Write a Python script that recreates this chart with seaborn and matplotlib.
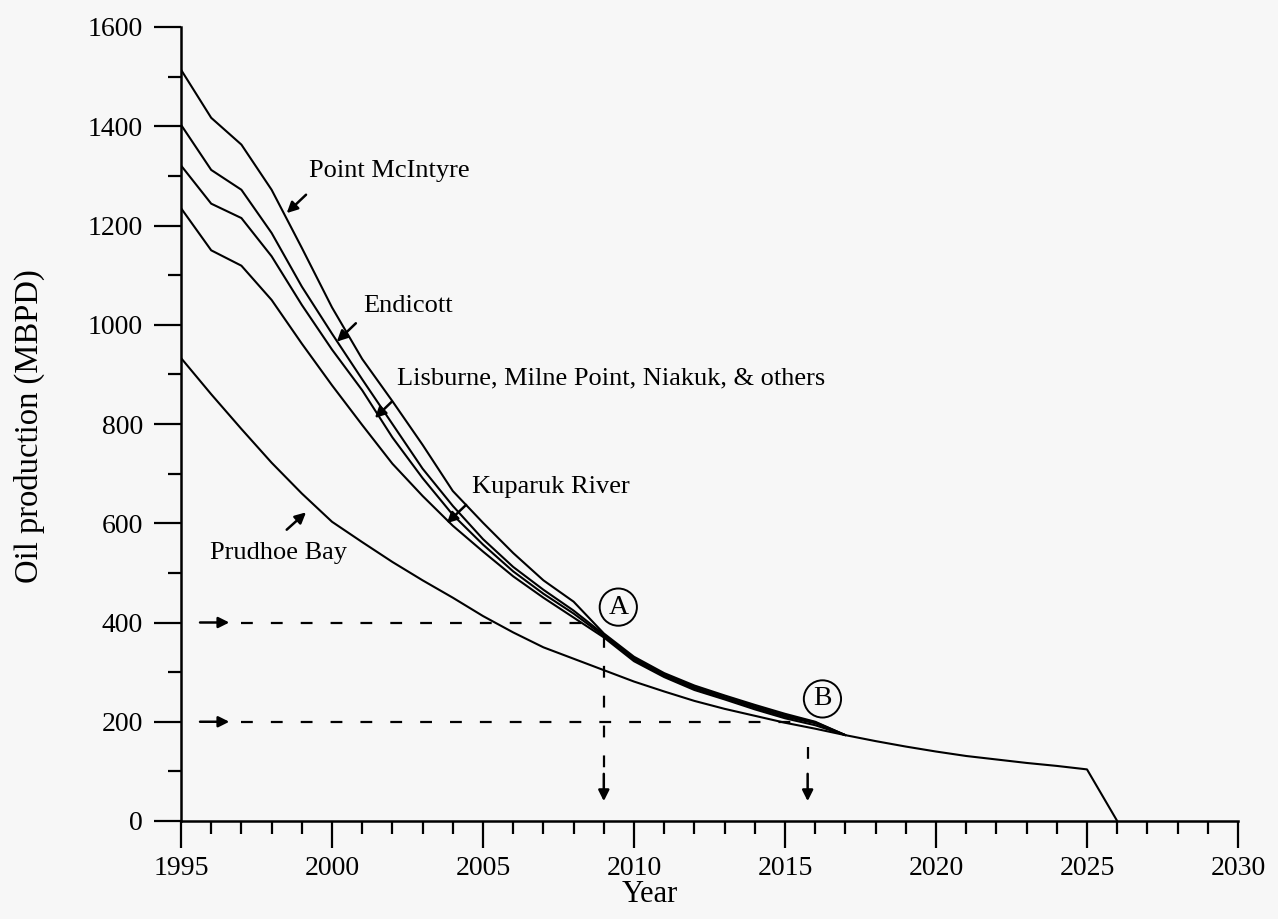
import numpy as np
import pandas as pd
import matplotlib
matplotlib.use("Agg")
import matplotlib.pyplot as plt
from matplotlib.ticker import MultipleLocator
import seaborn as sns

# Alaska North Slope oil production forecast, thousand barrels per day (MBPD)
years_prudhoe = list(range(1995, 2027))
prudhoe = [933, 860, 790, 722, 660, 603, 562, 522, 485, 450, 413, 380, 350, 327,
           304, 281, 261, 242, 226, 212, 198, 186, 173, 161, 150, 140, 131, 124,
           117, 111, 104, 0]

years_fields = list(range(1995, 2018))
kuparuk = [302, 290, 329, 328, 302, 275, 236, 198, 170, 145, 130, 113, 100, 83,
           66, 41, 29, 22, 19, 13, 9, 7, 0]
lisburne_group = [86, 94, 96, 88, 78, 72, 70, 53, 36, 22, 14, 10, 8, 8,
                  3, 3, 2, 3, 3, 3, 3, 4, 0]
endicott = [82, 68, 57, 47, 37, 32, 22, 27, 19, 18, 11, 9, 8, 6,
            3, 3, 3, 3, 2, 3, 3, 2, 0]
point_mcintyre = [111, 105, 91, 87, 78, 53, 41, 46, 48, 30, 33, 28, 19, 18,
                  2, 3, 3, 3, 3, 3, 3, 1, 0]

x_ticks = [1995, 2000, 2005, 2010, 2015, 2020, 2025, 2030]
y_ticks = [0, 200, 400, 600, 800, 1000, 1200, 1400, 1600]

# Threshold rates and the years they are reached
rate_a, year_a = 400, 2009.0
rate_b, year_b = 200, 2015.75

bg = "#f7f7f7"
sns.set_theme(style="white")
plt.rcParams["font.family"] = ["Liberation Serif", "DejaVu Serif"]
plt.rcParams["lines.scale_dashes"] = False
plt.rcParams["text.color"] = "black"

fig, ax = plt.subplots(figsize=(12.78, 9.19), dpi=100)
fig.patch.set_facecolor(bg)
ax.set_facecolor(bg)
fig.subplots_adjust(left=181 / 1278, right=1238 / 1278,
                    bottom=1 - 821 / 919, top=1 - 27 / 919)

# Stacked totals: each line adds one more field on top of Prudhoe Bay
n = len(years_fields)
frames = [pd.DataFrame({"Year": years_prudhoe, "Rate": prudhoe,
                        "Curve": "Prudhoe Bay"})]
cum = np.array(prudhoe[:n], dtype=float)
for name, vals in [("Kuparuk River", kuparuk),
                   ("Lisburne group", lisburne_group),
                   ("Endicott", endicott),
                   ("Point McIntyre", point_mcintyre)]:
    cum = cum + np.array(vals)
    frames.append(pd.DataFrame({"Year": years_fields, "Rate": cum.copy(),
                                "Curve": name}))
df = pd.concat(frames, ignore_index=True)

sns.lineplot(data=df, x="Year", y="Rate", units="Curve", estimator=None,
             color="black", linewidth=1.5, sort=False, ax=ax, legend=False)

# Dashed guide lines for the two threshold rates
dash = dict(color="black", linewidth=1.6, dashes=(8.5, 13))
ax.plot([1997.0, 2008.7], [rate_a, rate_a], **dash)
ax.plot([1997.0, 2015.2], [rate_b, rate_b], **dash)
ax.plot([year_a, year_a], [372, 100], **dash)
ax.plot([year_b, year_b], [150, 100], **dash)

arrow = dict(arrowstyle="-|>", color="black", lw=1.8, mutation_scale=16,
             shrinkA=0, shrinkB=0)
for r in (rate_a, rate_b):
    ax.annotate("", xy=(1996.6, r), xytext=(1995.63, r), arrowprops=arrow)
for yr in (year_a, year_b):
    ax.annotate("", xy=(yr, 40), xytext=(yr, 95), arrowprops=arrow)

circ = dict(boxstyle="circle,pad=0.22", fc="none", ec="black", lw=1.4)
ax.text(2009.48, 431, "A", ha="center", va="center", fontsize=20,
        color="black", bbox=circ)
ax.text(2016.24, 246, "B", ha="center", va="center", fontsize=20,
        color="black", bbox=circ)

# Field labels with pointer arrows
labels = [
    ("Point McIntyre", 1999.25, 1309, (1999.14, 1262), (1998.50, 1225)),
    ("Endicott", 2001.04, 1037, (2000.79, 1003), (2000.16, 966)),
    ("Lisburne, Milne Point, Niakuk, & others", 2002.14, 892,
     (2001.98, 845), (2001.42, 812)),
    ("Kuparuk River", 2004.63, 674, (2004.44, 637), (2003.80, 600)),
    ("Prudhoe Bay", 1995.96, 540, (1998.50, 587), (1999.14, 622)),
]
for text, tx, ty, tail, tip in labels:
    ax.text(tx, ty, text, ha="left", va="center", fontsize=19, color="black")
    ax.annotate("", xy=tip, xytext=tail, arrowprops=arrow)

ax.set_xlim(1995, 2030)
ax.set_ylim(0, 1600)
ax.set_xticks(x_ticks)
ax.set_xticklabels([str(t) for t in x_ticks])
ax.set_yticks(y_ticks)
ax.set_yticklabels([str(t) for t in y_ticks])
ax.xaxis.set_minor_locator(MultipleLocator(1))
ax.yaxis.set_minor_locator(MultipleLocator(100))

ax.tick_params(axis="both", which="both", bottom=True, left=True,
               top=False, right=False)
ax.tick_params(axis="both", which="major", direction="out", length=19.5,
               width=1.6, color="black", labelsize=20, labelcolor="black")
ax.tick_params(axis="both", which="minor", direction="out", length=9.5,
               width=1.6, color="black")
ax.tick_params(axis="y", which="major", pad=8)
ax.tick_params(axis="x", which="major", pad=6)

for side in ("top", "right"):
    ax.spines[side].set_visible(False)
for side in ("left", "bottom"):
    ax.spines[side].set_color("black")
    ax.spines[side].set_linewidth(1.8)

ax.set_xlabel("Year", fontsize=22, color="black")
ax.xaxis.set_label_coords(0.4437, -0.093)
ax.xaxis.label.set_verticalalignment("center")
ax.set_ylabel("Oil production (MBPD)", fontsize=23.5, color="black")
ax.yaxis.set_label_coords(-0.143, 0.497)
ax.yaxis.label.set_verticalalignment("center")

fig.savefig("out.png", dpi=100, facecolor=bg)
